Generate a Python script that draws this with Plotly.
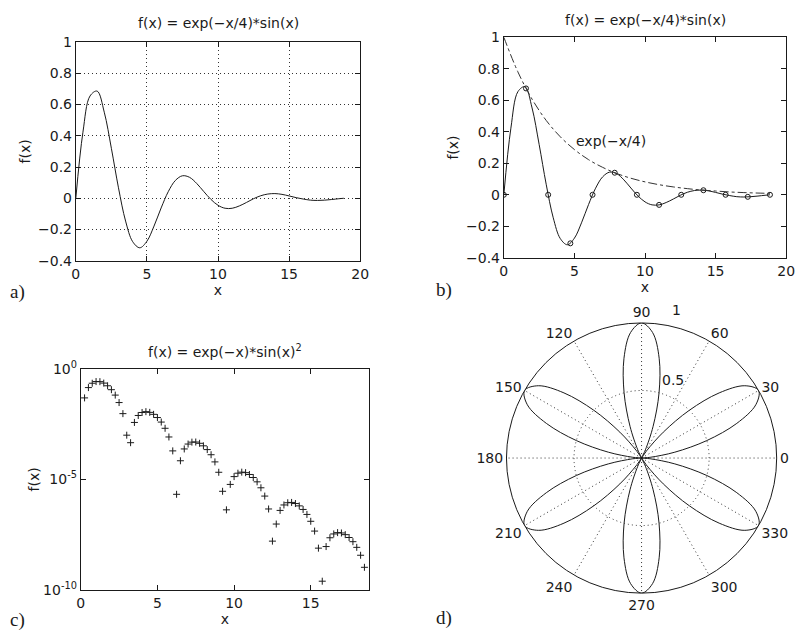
import plotly.graph_objects as go

W, H = 808, 640

# ---------------- data ----------------
# a), b): f(x) = exp(-x/4)*sin(x)
x_curve = [0, 0.5, 1, 1.5, 2, 2.5, 3, 3.5, 4, 4.5, 5, 5.5, 6, 6.5, 7, 7.5, 8, 8.5, 9, 9.5,
           10, 10.5, 11, 11.5, 12, 12.5, 13, 13.5, 14, 14.5, 15, 15.5, 16, 16.5, 17, 17.5,
           18, 18.5, 18.85]
f_curve = [0.0, 0.423, 0.655, 0.686, 0.551, 0.320, 0.067, -0.146, -0.278, -0.317, -0.275,
           -0.178, -0.062, 0.042, 0.114, 0.144, 0.134, 0.095, 0.043, -0.007, -0.045, -0.064,
           -0.064, -0.049, -0.027, -0.003, 0.016, 0.027, 0.030, 0.025, 0.015, 0.004, -0.005,
           -0.012, -0.014, -0.012, -0.008, -0.003, 0.0]

# b) circle markers
x_marks = [0, 1.571, 3.142, 4.712, 6.283, 7.854, 9.425, 10.996, 12.566, 14.137, 15.708,
           17.279, 18.850]
f_marks = [0, 0.675, 0, -0.308, 0, 0.140, 0, -0.064, 0, 0.029, 0, -0.013, 0]

# b) envelope exp(-x/4)
x_env = [0, 1, 2, 3, 4, 5, 6, 7, 8, 9, 10, 11, 12, 13, 14, 15, 16, 17, 18, 18.85]
f_env = [1.0, 0.779, 0.607, 0.472, 0.368, 0.287, 0.223, 0.174, 0.135, 0.105, 0.082, 0.064,
         0.050, 0.039, 0.030, 0.024, 0.018, 0.014, 0.011, 0.009]

# c) f(x) = exp(-x)*sin(x)^2
x_log = [0.25, 0.5, 0.75, 1.0, 1.25, 1.5, 1.75, 2.0, 2.25, 2.5, 2.75, 3.0, 3.25, 3.5, 3.75,
         4.0, 4.25, 4.5, 4.75, 5.0, 5.25, 5.5, 5.75, 6.0, 6.25, 6.5, 6.75, 7.0, 7.25, 7.5,
         7.75, 8.0, 8.25, 8.5, 8.75, 9.0, 9.25, 9.5, 9.75, 10.0, 10.25, 10.5, 10.75, 11.0,
         11.25, 11.5, 11.75, 12.0, 12.25, 12.5, 12.75, 13.0, 13.25, 13.5, 13.75, 14.0, 14.25,
         14.5, 14.75, 15.0, 15.25, 15.5, 15.75, 16.0, 16.25, 16.5, 16.75, 17.0, 17.25, 17.5,
         17.75, 18.0, 18.25, 18.5, 18.75]
f_log = [4.77e-2, 1.394e-1, 2.194e-1, 2.605e-1, 2.582e-1, 2.220e-1, 1.683e-1, 1.119e-1,
         6.38e-2, 2.94e-2, 9.31e-3, 9.91e-4, 4.54e-4, 3.72e-3, 7.69e-3, 1.05e-2, 1.143e-2,
         1.062e-2, 8.64e-3, 6.20e-3, 3.87e-3, 2.03e-3, 8.22e-4, 1.94e-4, 2.13e-6, 6.95e-5,
         2.37e-4, 3.94e-4, 4.81e-4, 4.87e-4, 4.26e-4, 3.28e-4, 2.22e-4, 1.30e-4, 6.18e-5,
         2.10e-5, 2.91e-6, 4.24e-7, 5.95e-6, 1.34e-5, 1.91e-5, 2.13e-5, 2.02e-5, 1.67e-5,
         1.22e-5, 7.77e-6, 4.19e-6, 1.77e-6, 4.63e-7, 1.64e-8, 9.68e-8, 3.99e-7, 7.03e-7,
         8.86e-7, 9.16e-7, 8.16e-7, 6.40e-7, 4.41e-7, 2.63e-7, 1.29e-7, 4.66e-8, 7.91e-9,
         2.55e-10, 9.33e-9, 2.33e-8, 3.46e-8, 3.97e-8, 3.83e-8, 3.22e-8, 2.39e-8, 1.55e-8,
         8.59e-9, 3.78e-9, 1.08e-9, 7.11e-11]

# d) polar rose
theta_deg = list(range(0, 365, 5))
lobe = [0.0, 0.067, 0.25, 0.5, 0.75, 0.933, 1.0, 0.933, 0.75, 0.5, 0.25, 0.067]
rose_r = lobe * 6 + [0.0]
angle_ticks = list(range(0, 360, 30))
angle_labels = [str(a) for a in angle_ticks]
radial_labels = ["0.5", "1"]

titles = ["f(x) = exp(\u2212x/4)*sin(x)", "f(x) = exp(\u2212x/4)*sin(x)",
          "f(x) = exp(\u2212x)*sin(x)<sup>2</sup>"]
panel_labels = ["a)", "b)", "c)", "d)"]
log_ticktext = ["10<sup>0</sup>", "10<sup>-5</sup>", "10<sup>-10</sup>"]

# ---------------- helpers ----------------
def px(v):
    return v / W

def py(v):
    return 1 - v / H

SANS = "DejaVu Sans, Liberation Sans, Arial, sans-serif"
SERIF = "Liberation Serif, DejaVu Serif, serif"
INK = "#1a1a1a"
FS = 14

def ax(**kw):
    d = dict(showline=True, linecolor=INK, linewidth=1, mirror="ticks", ticks="inside",
             ticklen=5, tickcolor=INK, zeroline=False, showgrid=False,
             tickfont=dict(family=SANS, size=FS, color=INK),
             title_font=dict(family=SANS, size=FS, color=INK))
    d.update(kw)
    return d

fig = go.Figure()

# a)
fig.add_trace(go.Scatter(x=x_curve, y=f_curve, mode="lines", line=dict(color=INK, width=1, shape="spline"),
                         xaxis="x", yaxis="y", showlegend=False))
# b)
fig.add_trace(go.Scatter(x=x_curve, y=f_curve, mode="lines", line=dict(color=INK, width=1, shape="spline"),
                         xaxis="x2", yaxis="y2", showlegend=False))
fig.add_trace(go.Scatter(x=x_marks, y=f_marks, mode="markers",
                         marker=dict(symbol="circle-open", size=5, color=INK, line=dict(width=1)),
                         xaxis="x2", yaxis="y2", showlegend=False))
fig.add_trace(go.Scatter(x=x_env, y=f_env, mode="lines",
                         line=dict(color="#333", width=1, dash="dashdot", shape="spline"),
                         xaxis="x2", yaxis="y2", showlegend=False))
# c)
fig.add_trace(go.Scatter(x=x_log, y=f_log, mode="markers",
                         marker=dict(symbol="cross-thin-open", size=5, color=INK, line=dict(width=1, color=INK)),
                         xaxis="x3", yaxis="y3", showlegend=False))
# d)
fig.add_trace(go.Scatterpolar(r=rose_r, theta=theta_deg, mode="lines",
                              line=dict(color=INK, width=1, shape="spline"), showlegend=False))

DOT = "1px,3px"

fig.update_layout(
    width=W, height=H, margin=dict(l=0, r=0, t=0, b=0),
    paper_bgcolor="white", plot_bgcolor="white",
    font=dict(family=SANS, size=FS, color=INK),
    xaxis=ax(domain=[px(73), px(362)], range=[0, 20], tickvals=[0, 5, 10, 15, 20],
             showgrid=True, gridcolor="#333", griddash=DOT, gridwidth=1,
             title=dict(text="x", standoff=0), anchor="y"),
    yaxis=ax(domain=[py(258), py(33)], range=[-0.4, 1], dtick=0.2, tickformat=".1~f",
             showgrid=True, gridcolor="#333", griddash=DOT, gridwidth=1,
             title=dict(text="f(x)", standoff=4), anchor="x"),
    xaxis2=ax(domain=[px(508), px(795)], range=[0, 20], tickvals=[0, 5, 10, 15, 20],
              title=dict(text="x", standoff=0), anchor="y2"),
    yaxis2=ax(domain=[py(255), py(28)], range=[-0.4, 1], dtick=0.2, tickformat=".1~f",
              title=dict(text="f(x)", standoff=4), anchor="x2"),
    xaxis3=ax(domain=[px(78), px(371)], range=[0, 18.8], tickvals=[0, 5, 10, 15],
              title=dict(text="x", standoff=0), anchor="y3"),
    yaxis3=ax(domain=[py(597), py(369)], type="log", range=[-10, 0],
              tickvals=[1, 1e-5, 1e-10], ticktext=log_ticktext,
              title=dict(text="f(x)", standoff=0), anchor="x3"),
    polar=dict(
        domain=dict(x=[px(508), px(788)], y=[py(600), py(322)]),
        bgcolor="white",
        angularaxis=dict(direction="counterclockwise", rotation=0,
                         tickvals=angle_ticks, ticktext=angle_labels,
                         showline=True, linecolor=INK, linewidth=1,
                         gridcolor="#333", griddash=DOT, ticks="",
                         tickfont=dict(family=SANS, size=FS, color=INK)),
        radialaxis=dict(range=[0, 1], tickvals=[0.5, 1], showticklabels=False,
                        showline=False, angle=80, ticks="",
                        gridcolor="#333", griddash=DOT),
    ),
)

# radial tick labels of d)
for lab, (lx, ly) in zip(radial_labels, [(667, 381), (677, 309)]):
    fig.add_annotation(text=lab, x=px(lx), y=py(ly), xref="paper", yref="paper",
                       xanchor="left", yanchor="middle", showarrow=False,
                       font=dict(family=SANS, size=FS, color=INK))

# titles
title_pos = [((73 + 362) / 2, 24), ((508 + 795) / 2, 21), ((78 + 371) / 2, 362)]
for t, (tx, ty) in zip(titles, title_pos):
    fig.add_annotation(text=t, x=px(tx), y=py(ty), xref="paper", yref="paper",
                       xanchor="center", yanchor="bottom", showarrow=False,
                       font=dict(family=SANS, size=FS, color=INK))

# exp(-x/4) label in b)
fig.add_annotation(text="exp(\u2212x/4)", x=5.0, y=0.34, xref="x2", yref="y2",
                   xanchor="left", yanchor="middle", showarrow=False,
                   font=dict(family=SANS, size=FS, color=INK))

# panel labels
label_pos = [(4, 290), (437, 288), (4, 628), (437, 626)]
for lab, (lx, ly) in zip(panel_labels, label_pos):
    fig.add_annotation(text=lab, x=px(lx), y=py(ly), xref="paper", yref="paper",
                       xanchor="left", yanchor="middle", showarrow=False,
                       font=dict(family=SERIF, size=19, color=INK))

fig.write_html("out.html")
